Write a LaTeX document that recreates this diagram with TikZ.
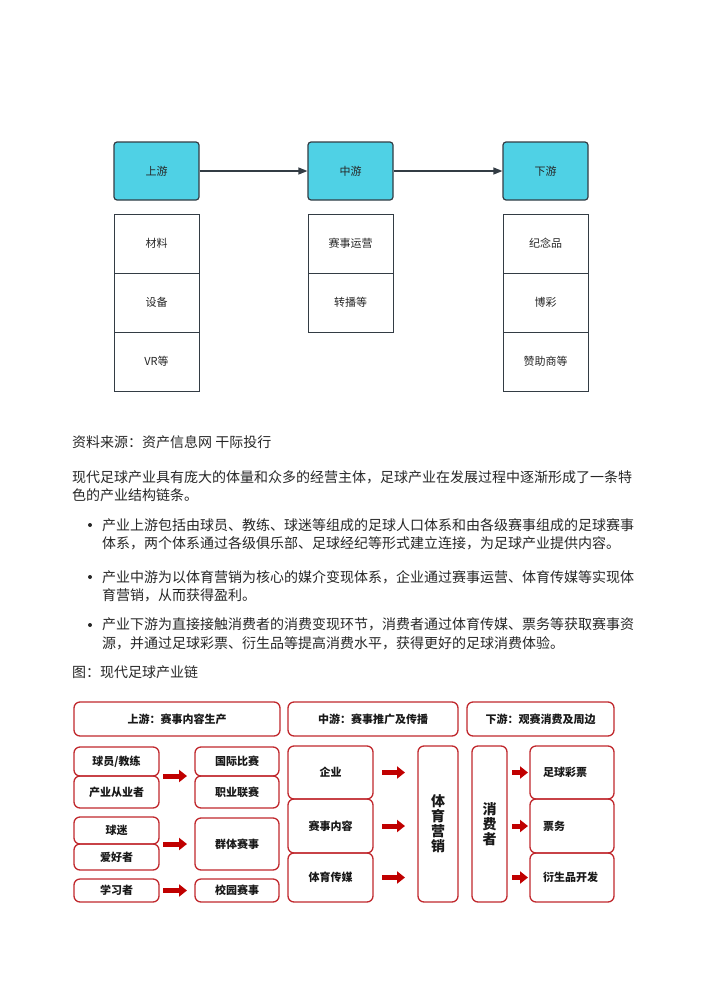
\documentclass[tikz,border=0pt]{standalone}
\usepackage{fontspec}
\setmainfont{Noto Sans CJK SC}
\usetikzlibrary{positioning,arrows.meta,calc}
\definecolor{headcyan}{RGB}{79,209,229}
\definecolor{boxline}{RGB}{51,60,68}
\definecolor{bodytext}{RGB}{38,38,38}
\definecolor{redline}{RGB}{192,40,45}
\definecolor{arrowred}{RGB}{192,0,0}

\begin{document}
\begin{tikzpicture}[
  x=1pt, y=-1pt, font=\fontsize{14}{18.5}\selectfont, text=bodytext, node distance=0pt,
  stage/.style={draw=boxline, line width=1.2pt, rounded corners=3pt, fill=headcyan, minimum width=85pt, minimum height=58pt, font=\fontsize{11}{13}\selectfont},
  cell/.style={draw=boxline, line width=1pt, fill=white, outer sep=0pt, minimum width=85pt, minimum height=59pt, font=\fontsize{11}{13}\selectfont},
  flow/.style={-{Triangle[length=9pt,width=7pt]}, line width=1.2pt, boxline},
  para/.style={anchor=base west, align=left, inner sep=0pt},
  dot/.style={circle, fill=bodytext, inner sep=0pt, minimum size=4pt},
  rbox/.style={draw=redline, line width=1.3pt, rounded corners=6pt, outer sep=0pt, inner sep=2pt, font=\bfseries\fontsize{11}{13}\selectfont, text=black!90},
  tall/.style={rbox, align=center, font=\bfseries\fontsize{14}{15}\selectfont},
  redarr/.style={-{Triangle[length=8pt,width=12pt]}, line width=5pt, arrowred}]
\useasboundingbox (0,0) rectangle (710,1004);

% chain of stages
\node[stage] (up) at (156.5,171) {上游};
\node[stage] (mid) at (350.5,171) {中游};
\node[stage] (down) at (545.5,171) {下游};
\draw[flow] (up) -- (mid); \draw[flow] (mid) -- (down);

\node[cell, anchor=north] (material) at (156.5,214) {材料};
\node[cell, below=of material] (equip) {设备};
\node[cell, below=of equip] (vr) {VR等};
\node[cell, anchor=north] (operate) at (350.5,214) {赛事运营};
\node[cell, below=of operate] (broadcast) {转播等};
\node[cell, anchor=north] (souvenir) at (545.5,214) {纪念品};
\node[cell, below=of souvenir] (betting) {博彩};
\node[cell, below=of betting] (sponsor) {赞助商等};

% text (base = last line)
\node[para] (source) at (72,447) {资料来源：资产信息网 干际投行};
\node[para] (intro) at (72,500.5) {现代足球产业具有庞大的体量和众多的经营主体，足球产业在发展过程中逐渐形成了一条特\\色的产业结构链条。};
\node[dot] (dot1) at (90,525) {};
\node[para] (item1) at (102,548.5) {产业上游包括由球员、教练、球迷等组成的足球人口体系和由各级赛事组成的足球赛事\\体系，两个体系通过各级俱乐部、足球经纪等形式建立连接，为足球产业提供内容。};
\node[dot] (dot2) at (90,577) {};
\node[para] (item2) at (102,600.5) {产业中游为以体育营销为核心的媒介变现体系，企业通过赛事运营、体育传媒等实现体\\育营销，从而获得盈利。};
\node[dot] (dot3) at (90,625) {};
\node[para] (item3) at (102,648) {产业下游为直接接触消费者的消费变现环节，消费者通过体育传媒、票务等获取赛事资\\源，并通过足球彩票、衍生品等提高消费水平，获得更好的足球消费体验。};
\node[para] (figcap) at (72,677) {图：现代足球产业链};

% industry chain
\node[rbox, minimum width=206pt, minimum height=34pt] (hup) at (177,719) {上游：赛事内容生产};
\node[rbox, minimum width=170pt, minimum height=34pt] (hmid) at (373,719) {中游：赛事推广及传播};
\node[rbox, minimum width=147pt, minimum height=34pt] (hdown) at (540.5,719) {下游：观赛消费及周边};

\node[rbox, minimum width=85pt, minimum height=29pt] (player) at (116.5,761.5) {球员/教练};
\node[rbox, minimum width=85pt, minimum height=32pt, below=of player] (worker) {产业从业者};
\node[rbox, minimum width=84pt, minimum height=29pt] (intl) at (237,761.5) {国际比赛};
\node[rbox, minimum width=84pt, minimum height=32pt, below=of intl] (league) {职业联赛};
\node[rbox, minimum width=85pt, minimum height=27pt] (fan) at (116.5,830.5) {球迷};
\node[rbox, minimum width=85pt, minimum height=26pt, below=of fan] (amateur) {爱好者};
\node[rbox, minimum width=84pt, minimum height=52pt] (mass) at (237,844) {群体赛事};
\node[rbox, minimum width=85pt, minimum height=23pt] (learner) at (116.5,890.5) {学习者};
\node[rbox, minimum width=84pt, minimum height=23pt] (campus) at (237,890.5) {校园赛事};
\draw[redarr, shorten <=4pt, shorten >=8pt] (player.south east) -- (player.south east -| intl.west);
\draw[redarr, shorten <=4pt, shorten >=8pt] (fan.south east) -- (fan.south east -| mass.west);
\draw[redarr, shorten <=4pt, shorten >=8pt] (learner) -- (campus);

\node[rbox, minimum width=85pt, minimum height=53pt] (firm) at (330.5,772.5) {企业};
\node[rbox, minimum width=85pt, minimum height=54pt, below=of firm] (content) {赛事内容};
\node[rbox, minimum width=85pt, minimum height=49pt, below=of content] (media) {体育传媒};
\node[tall, minimum width=40pt, minimum height=156pt] (marketing) at (438,824) {体\\育\\营\\销};
\draw[redarr, shorten <=9pt, shorten >=13pt] (firm) -- (firm -| marketing.west);
\draw[redarr, shorten <=9pt, shorten >=13pt] (content) -- (content -| marketing.west);
\draw[redarr, shorten <=9pt, shorten >=13pt] (media) -- (media -| marketing.west);

\node[tall, minimum width=35pt, minimum height=156pt] (consumer) at (489.5,824) {消\\费\\者};
\node[rbox, minimum width=84pt, minimum height=53pt, text width=58pt, inner xsep=13pt, align=left] (lottery) at (572,772.5) {足球彩票};
\node[rbox, minimum width=84pt, minimum height=54pt, text width=58pt, inner xsep=13pt, align=left, below=of lottery] (ticket) {票务};
\node[rbox, minimum width=84pt, minimum height=49pt, text width=58pt, inner xsep=13pt, align=left, below=of ticket] (merch) {衍生品开发};
\draw[redarr, shorten <=5pt, shorten >=2pt] (consumer.east |- lottery) -- (lottery);
\draw[redarr, shorten <=5pt, shorten >=2pt] (consumer.east |- ticket) -- (ticket);
\draw[redarr, shorten <=5pt, shorten >=2pt] (consumer.east |- merch) -- (merch);
\end{tikzpicture}
\end{document}
